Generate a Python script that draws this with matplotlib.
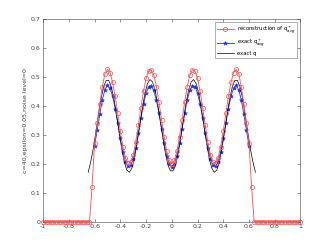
import numpy as np
import matplotlib
matplotlib.use("Agg")
import matplotlib.pyplot as plt

plt.rcParams['axes.unicode_minus'] = False

# reconstruction of q+_avg on the grid -1:0.02:1
x_rec = np.round(np.arange(-1, 1.0001, 0.02), 2)
y_rec = [0.0] * 19 + [
    0.12, 0.27, 0.34, 0.405, 0.465, 0.51, 0.525, 0.514, 0.48, 0.432,
    0.373, 0.312, 0.259, 0.22, 0.201, 0.205, 0.231, 0.275, 0.332, 0.393,
    0.45, 0.494, 0.52, 0.524, 0.505, 0.466, 0.413, 0.352, 0.293, 0.244,
    0.211, 0.2, 0.211, 0.244, 0.293, 0.352, 0.413, 0.466, 0.505, 0.524,
    0.52, 0.494, 0.45, 0.393, 0.332, 0.275, 0.231, 0.205, 0.201, 0.22,
    0.259, 0.312, 0.373, 0.432, 0.48, 0.514, 0.525, 0.51, 0.465, 0.405,
    0.34, 0.27, 0.12] + [0.0] * 19

# exact q+_avg on -0.6:0.02:0.6
x_avg = np.round(np.arange(-0.6, 0.6001, 0.02), 2)
y_avg = [
    0.262, 0.315, 0.37, 0.42, 0.455, 0.47, 0.46, 0.432, 0.39, 0.339,
    0.287, 0.241, 0.207, 0.191, 0.194, 0.217, 0.255, 0.304, 0.356, 0.405,
    0.443, 0.466, 0.469, 0.453, 0.419, 0.373, 0.321, 0.27, 0.228, 0.2,
    0.19, 0.2, 0.228, 0.27, 0.321, 0.373, 0.419, 0.453, 0.469, 0.466,
    0.443, 0.405, 0.356, 0.304, 0.255, 0.217, 0.194, 0.191, 0.207, 0.241,
    0.287, 0.339, 0.39, 0.432, 0.46, 0.47, 0.455, 0.42, 0.37, 0.315,
    0.262]

# exact q on -0.65:0.02:0.65
x_q = np.round(np.arange(-0.65, 0.6501, 0.02), 2)
y_q = [
    0.17, 0.207, 0.253, 0.31, 0.37, 0.424, 0.465, 0.487, 0.487, 0.465,
    0.424, 0.37, 0.31, 0.253, 0.207, 0.178, 0.17, 0.185, 0.22, 0.271,
    0.33, 0.389, 0.44, 0.475, 0.49, 0.482, 0.453, 0.407, 0.35, 0.29,
    0.236, 0.195, 0.175, 0.175, 0.195, 0.236, 0.29, 0.35, 0.407, 0.453,
    0.482, 0.49, 0.475, 0.44, 0.389, 0.33, 0.271, 0.22, 0.185, 0.17,
    0.178, 0.207, 0.253, 0.31, 0.37, 0.424, 0.465, 0.487, 0.487, 0.465,
    0.424, 0.37, 0.31, 0.253, 0.207, 0.17]

fig = plt.figure(figsize=(3.32, 2.49), dpi=100)
ax = fig.add_axes([0.13, 0.11, 0.775, 0.815])

ax.plot(x_rec, y_rec, '-o', color=(1, 0.3, 0.3), lw=0.6, ms=3,
        mfc='none', mew=0.5, clip_on=False, zorder=3,
        label=r'reconstruction of q$^+_{avg}$')
ax.plot(x_avg, y_avg, '-*', color=(0.1, 0.2, 1), lw=0.6, ms=3,
        mew=0.4, label=r'exact q$^+_{avg}$')
ax.plot(x_q, y_q, '-', color='k', lw=0.5, label='exact q')

ax.set_xlim(-1, 1)
ax.set_ylim(0, 0.7)
ax.set_xticks(np.round(np.arange(-1, 1.001, 0.2), 1))
ax.set_xticklabels(['-1', '-0.8', '-0.6', '-0.4', '-0.2', '0', '0.2', '0.4', '0.6', '0.8', '1'])
ax.set_yticks(np.round(np.arange(0, 0.701, 0.1), 1))
ax.set_yticklabels(['0', '0.1', '0.2', '0.3', '0.4', '0.5', '0.6', '0.7'])
ax.tick_params(direction='in', labelsize=4.5, length=2, width=0.4,
               top=True, right=True, colors='0.25', pad=2)
for s in ax.spines.values():
    s.set_linewidth(0.4)
    s.set_color('0.25')
ax.set_ylabel('c=40,epsilon=0.05,noise level=0', fontsize=4.5, color='0.25', labelpad=2)

leg = ax.legend(loc='upper right', fontsize=3.8, frameon=True, fancybox=False,
                edgecolor='0.3', handlelength=3.2, handletextpad=0.6,
                borderpad=0.4, labelspacing=0.3, borderaxespad=0.6)
leg.get_frame().set_linewidth(0.4)

fig.savefig('out.png', dpi=100)
